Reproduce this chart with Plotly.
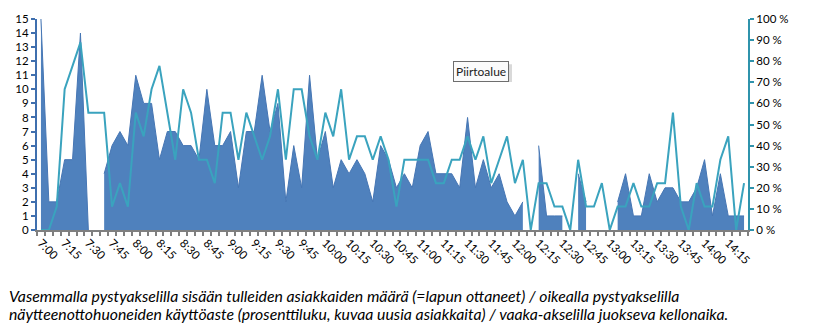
import plotly.graph_objects as go

# Time slots every 5 minutes, 7:00 - 14:25
times = [f"{h}:{m:02d}" for h in range(7, 15) for m in range(0, 60, 5)][:90]

# Customers arriving (took a queue ticket) per 5-minute slot; None = no entry
arrivals = [
    15, 2, 2, 5, 5, 14, 0, None, 4, 6,
    7, 6, 11, 9, 9, 5, 7, 7, 6, 6,
    5, 10, 6, 6, 7, 3, 7, 7, 11, 7,
    9, 2, 6, 3, 11, 5, 7, 3, 5, 4,
    5, 4, 2, 6, 5, 3, 4, 3, 6, 7,
    4, 4, 4, 3, 8, 3, 5, 3, 4, 2,
    1, 2, None, 6, 1, 1, 1, None, 4, 2,
    None, None, None, 2, 4, 1, 1, 4, 2, 3,
    3, 2, 2, 3, 5, 1, 4, 1, 1, 1,
]

# Sampling-room utilisation, percent
utilisation = [
    0, 0, 11.1, 66.7, 77.8, 88.9, 55.6, 55.6, 55.6, 11.1,
    22.2, 11.1, 55.6, 44.4, 66.7, 77.8, 55.6, 33.3, 66.7, 55.6,
    33.3, 33.3, 22.2, 55.6, 55.6, 33.3, 55.6, 44.4, 33.3, 44.4,
    66.7, 33.3, 66.7, 66.7, 44.4, 33.3, 55.6, 44.4, 66.7, 33.3,
    44.4, 44.4, 33.3, 44.4, 33.3, 11.1, 33.3, 33.3, 33.3, 33.3,
    22.2, 22.2, 33.3, 33.3, 44.4, 33.3, 44.4, 22.2, 33.3, 44.4,
    22.2, 33.3, 0, 22.2, 22.2, 11.1, 11.1, 0, 33.3, 11.1,
    11.1, 22.2, 0, 11.1, 11.1, 22.2, 11.1, 11.1, 22.2, 22.2,
    55.6, 11.1, 0, 22.2, 11.1, 11.1, 33.3, 44.4, 0, 22.2,
]

left_ticks = list(range(0, 16))
right_ticks = list(range(0, 101, 10))
right_labels = [f"{v} %" for v in right_ticks]
x_labels = [t if i % 3 == 0 else "" for i, t in enumerate(times)]

caption = [
    "Vasemmalla pystyakselilla sisään tulleiden asiakkaiden määrä (=lapun ottaneet) / oikealla pystyakselilla",
    "näytteenottohuoneiden käyttöaste (prosenttiluku, kuvaa uusia asiakkaita) / vaaka-akselilla juokseva kellonaika.",
]

FONT = "Lato"
W, H = 839, 331
ML, MR, MT, MB = 37, 91, 16, 101
PW, PH = W - ML - MR, H - MT - MB

fig = go.Figure()

# Area drawn as separate runs so empty slots drop straight to the baseline
runs, cur = [], []
for t, v in zip(times, arrivals):
    if v is None:
        if cur:
            runs.append(cur)
        cur = []
    else:
        cur.append((t, v))
if cur:
    runs.append(cur)

for run in runs:
    fig.add_trace(go.Scatter(
        x=[t for t, _ in run], y=[v for _, v in run], mode="lines", fill="tozeroy",
        line=dict(color="#4676B4", width=1), fillcolor="#4F81BD",
        yaxis="y", hoverinfo="skip",
    ))

fig.add_trace(go.Scatter(
    x=times, y=utilisation, mode="lines",
    line=dict(color="#3AA3BE", width=2), yaxis="y2", hoverinfo="skip",
))

def px_x(p):
    return (p - ML) / PW

def px_y(p):
    return (H - MB - p) / PH

# "Piirtoalue" tooltip with a soft shadow
fig.add_shape(type="rect", xref="paper", yref="paper",
              x0=px_x(456), x1=px_x(512), y0=px_y(80), y1=px_y(62),
              fillcolor="rgba(0,0,0,0.15)", line=dict(width=0), layer="above")
fig.add_annotation(xref="paper", yref="paper", x=px_x(453), y=px_y(59),
                   xanchor="left", yanchor="top", text="Piirtoalue", showarrow=False,
                   font=dict(family=FONT, size=12, color="#222"),
                   bgcolor="#FBFBFB", bordercolor="#6E6E6E", borderwidth=1, borderpad=2)

for i, line in enumerate(caption):
    fig.add_annotation(xref="paper", yref="paper", x=px_x(7), y=px_y(285 + 18 * i),
                       xanchor="left", yanchor="top", text=f"<i>{line}</i>", showarrow=False,
                       font=dict(family=FONT, size=15.8, color="#000"))

fig.update_layout(
    width=W, height=H, margin=dict(l=ML, r=MR, t=MT, b=MB, pad=0),
    paper_bgcolor="white", plot_bgcolor="white", showlegend=False,
    font=dict(family=FONT, size=11, color="#000"),
    xaxis=dict(
        type="category", categoryorder="array", categoryarray=times,
        tickmode="array", tickvals=times, ticktext=x_labels,
        tickson="boundaries", ticks="outside", ticklen=4, tickwidth=2, tickcolor="#7F7F7F",
        tickangle=45, showline=True, linecolor="#7F7F7F", linewidth=2,
        showgrid=False, zeroline=False, range=[-0.5, 89.5],
        tickfont=dict(family=FONT, size=11.5),
    ),
    yaxis=dict(
        range=[0, 15], tickmode="array", tickvals=left_ticks, ticks="outside", ticklen=4,
        tickwidth=2, tickcolor="#3F6FAE", showline=True, linecolor="#3F6FAE", linewidth=2,
        showgrid=False, zeroline=False, tickfont=dict(family=FONT, size=11.5),
    ),
    yaxis2=dict(
        range=[0, 100], overlaying="y", side="right", tickmode="array",
        tickvals=right_ticks, ticktext=right_labels, ticks="outside", ticklen=4,
        tickwidth=2, tickcolor="#2F93AC", showline=True, linecolor="#2F93AC", linewidth=2,
        showgrid=False, zeroline=False, tickfont=dict(family=FONT, size=11.5),
    ),
)

fig.write_html("out.html")
